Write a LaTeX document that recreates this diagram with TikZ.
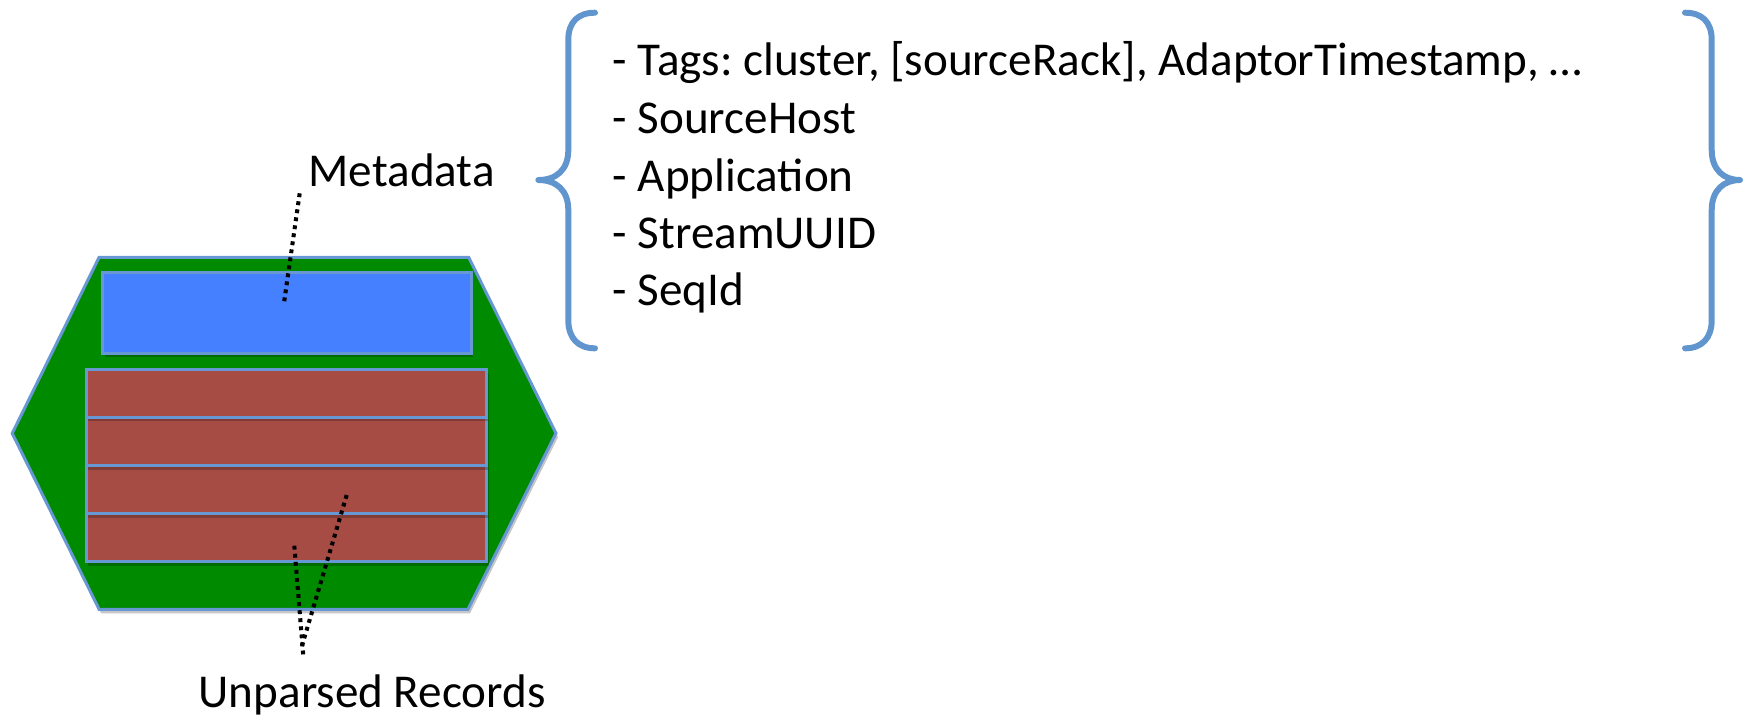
\documentclass[tikz,border=0pt]{standalone}
\usepackage{fontspec}
\setmainfont{Carlito}
\definecolor{hexgreen}{RGB}{0,138,0}
\definecolor{metablue}{RGB}{68,128,255}
\definecolor{recred}{RGB}{166,76,68}
\definecolor{edgeblue}{RGB}{104,152,212}
\definecolor{bracecol}{RGB}{96,150,205}
\begin{document}
\frenchspacing
\begin{tikzpicture}[x=0.01cm,y=-0.01cm,
  lbl/.style={inner sep=0pt, anchor=base west, font=\fontsize{13.4pt}{16.2pt}\selectfont},
  leader/.style={line width=1.15pt, dash pattern=on 1.1pt off 1.2pt, black},
  brace/.style={draw=bracecol, line width=1.7pt, line cap=round, line join=round},
  box/.style={draw=edgeblue, line width=0.85pt},
  shade/.style={fill=black, opacity=0.22}]
\useasboundingbox (0,0) rectangle (1752,720);
% container hexagon
\fill[shade, shift={(2,4)}] (12.2,433.3) -- (99.1,257.3) -- (468.7,257.3) -- (556,433.3) -- (468,609.3) -- (99.1,609.3) -- cycle;
\draw[box, fill=hexgreen] (12.2,433.3) -- (99.1,257.3) -- (468.7,257.3) -- (556,433.3) -- (468,609.3) -- (99.1,609.3) -- cycle;
% metadata block
\fill[shade, shift={(2,4)}] (102.5,272.7) rectangle (471,353.3);
\draw[box, fill=metablue] (102.5,272.7) rectangle (471,353.3);
% record rows (bottom first so shadows fall on lower rows)
\foreach \t in {513.3,465.3,417.3,369}{
  \fill[shade, shift={(2,4)}] (86.2,\t) rectangle (486.9,\t+48.2);
  \draw[box, fill=recred] (86.2,\t) rectangle (486.9,\t+48.2);
}
% labels
\node[lbl] (meta) at (308,186.7) {Metadata};
\node[lbl] (unparsed) at (198,707.7) {Unparsed Records};
\node[lbl] (l1) at (612,75.5) {- Tags: cluster, [sourceRack], AdaptorTimestamp, …};
\node[lbl] (l2) at (612,133.3) {- SourceHost};
\node[lbl] (l3) at (612,191.2) {- Application};
\node[lbl] (l4) at (612,248.3) {- StreamUUID};
\node[lbl] (l5) at (612,305) {- SeqId};
% leader lines
\coordinate (mdA) at (299.7,193.3);
\coordinate (mdB) at (283.8,304.3);
\coordinate (upA1) at (294.3,545.7);
\coordinate (upA2) at (303.3,656);
\coordinate (upB1) at (346.7,495);
\coordinate (upB2) at (300.7,650);
\draw[leader] (mdA) -- (mdB);
\draw[leader] (upA1) -- (upA2);
\draw[leader] (upB1) -- (upB2);
% braces
\draw[brace] (595,12.7) .. controls (578,12.7) and (568.3,22) .. (568.3,40) -- (568.3,150)
  .. controls (568.3,170) and (556,180) .. (538.3,180)
  .. controls (556,180) and (568.3,190) .. (568.3,210) -- (568.3,320)
  .. controls (568.3,338) and (578,348.3) .. (595,348.3);
\draw[brace] (1685,12.7) .. controls (1702,12.7) and (1711.7,22) .. (1711.7,40) -- (1711.7,150)
  .. controls (1711.7,170) and (1724,180) .. (1740,180)
  .. controls (1724,180) and (1711.7,190) .. (1711.7,210) -- (1711.7,320)
  .. controls (1711.7,338) and (1702,348.3) .. (1685,348.3);
\end{tikzpicture}
\end{document}
